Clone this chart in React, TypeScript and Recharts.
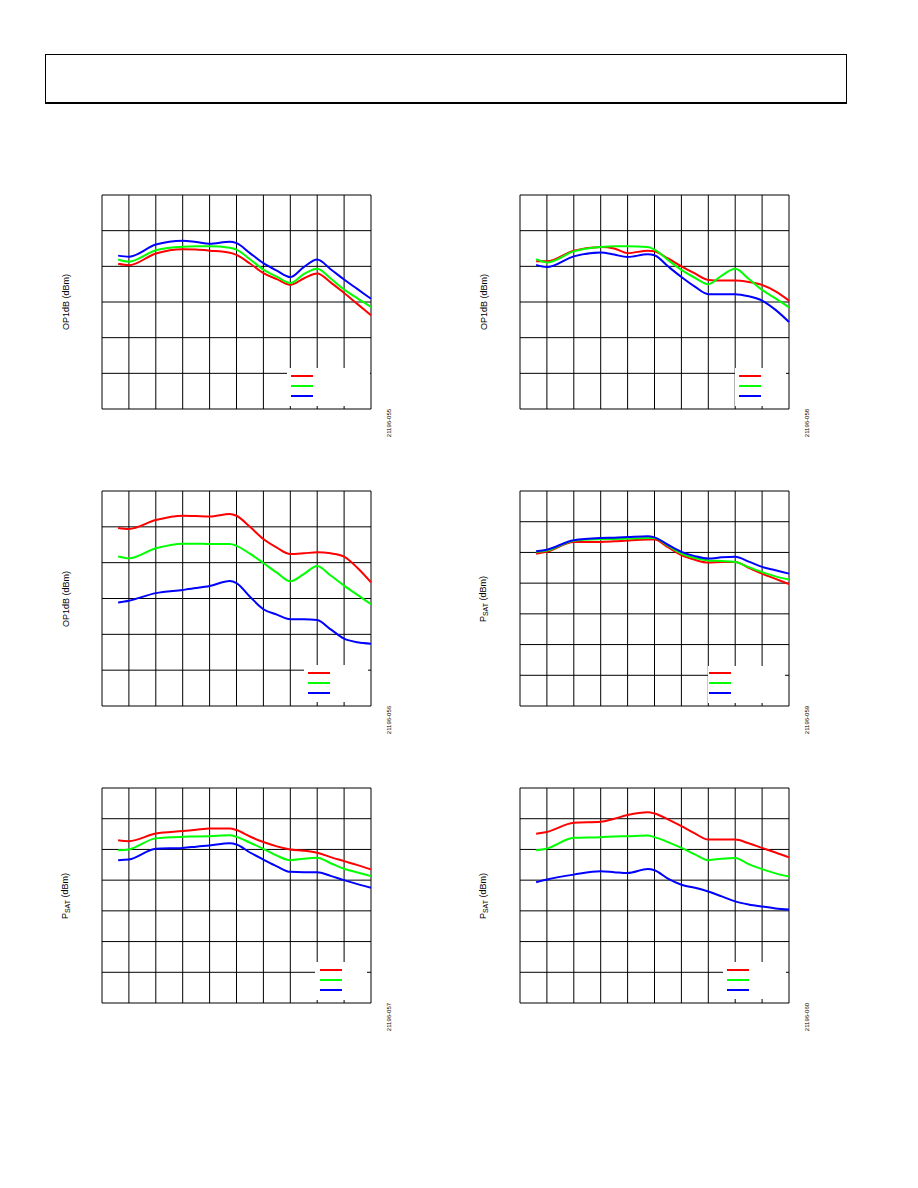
import React from "react";
import { LineChart, Line, XAxis, YAxis, CartesianGrid, Legend } from "recharts";

// x positions in grid divisions (axis labels are not printed on the reference)
const freq = [0.6, 1, 2, 3, 3.5, 4, 4.75, 5, 5.5, 6, 6.5, 7, 7.5, 8, 8.5, 9, 9.5, 10];
const xTicks = [0, 1, 2, 3, 4, 5, 6, 7, 8, 9, 10];

// Fig 055 — OP1dB
const op1dbA_red = [4.07, 4.03, 4.36, 4.48, 4.47, 4.44, 4.38, 4.32, 4.08, 3.81, 3.64, 3.48, 3.66, 3.8, 3.55, 3.25, 2.94, 2.63];
const op1dbA_green = [4.19, 4.13, 4.45, 4.55, 4.56, 4.56, 4.52, 4.47, 4.2, 3.91, 3.71, 3.53, 3.78, 3.93, 3.66, 3.35, 3.1, 2.86];
const op1dbA_blue = [4.3, 4.27, 4.61, 4.72, 4.68, 4.63, 4.69, 4.65, 4.37, 4.09, 3.88, 3.7, 3.98, 4.19, 3.92, 3.63, 3.36, 3.09];

// Fig 058 — OP1dB
const op1dbB_red = [4.14, 4.14, 4.44, 4.54, 4.5, 4.37, 4.44, 4.42, 4.22, 4.0, 3.8, 3.62, 3.6, 3.6, 3.56, 3.48, 3.3, 3.04];
const op1dbB_green = [4.2, 4.11, 4.42, 4.54, 4.56, 4.56, 4.54, 4.47, 4.18, 3.9, 3.68, 3.5, 3.74, 3.93, 3.65, 3.34, 3.1, 2.85];
const op1dbB_blue = [4.04, 3.98, 4.28, 4.39, 4.33, 4.26, 4.34, 4.31, 4.0, 3.7, 3.43, 3.22, 3.22, 3.22, 3.16, 3.04, 2.78, 2.44];

// Fig 056 — OP1dB
const op1dbC_red = [4.97, 4.94, 5.19, 5.31, 5.3, 5.29, 5.36, 5.31, 5.0, 4.66, 4.42, 4.24, 4.26, 4.29, 4.26, 4.17, 3.85, 3.45];
const op1dbC_green = [4.17, 4.12, 4.4, 4.53, 4.53, 4.52, 4.52, 4.47, 4.25, 3.99, 3.72, 3.48, 3.68, 3.91, 3.64, 3.36, 3.1, 2.84];
const op1dbC_blue = [2.89, 2.94, 3.15, 3.24, 3.29, 3.35, 3.49, 3.43, 3.05, 2.7, 2.55, 2.42, 2.42, 2.4, 2.14, 1.88, 1.78, 1.74];

// Fig 059 — PSAT
const psatA_red = [4.96, 5.02, 5.34, 5.34, 5.36, 5.39, 5.42, 5.42, 5.17, 4.91, 4.76, 4.67, 4.69, 4.69, 4.5, 4.31, 4.14, 3.97];
const psatA_green = [5.02, 5.06, 5.38, 5.43, 5.44, 5.45, 5.47, 5.47, 5.22, 4.96, 4.82, 4.74, 4.72, 4.69, 4.52, 4.36, 4.22, 4.12];
const psatA_blue = [5.04, 5.09, 5.4, 5.47, 5.48, 5.5, 5.53, 5.49, 5.25, 5.02, 4.88, 4.8, 4.84, 4.86, 4.7, 4.53, 4.42, 4.31];

// Fig 057 — PSAT
const psatB_red = [5.3, 5.27, 5.52, 5.6, 5.64, 5.68, 5.68, 5.63, 5.42, 5.24, 5.1, 5.0, 4.96, 4.89, 4.75, 4.62, 4.49, 4.35];
const psatB_green = [4.97, 5.0, 5.36, 5.41, 5.42, 5.43, 5.46, 5.41, 5.22, 5.02, 4.8, 4.65, 4.7, 4.73, 4.55, 4.37, 4.25, 4.13];
const psatB_blue = [4.65, 4.67, 5.02, 5.05, 5.09, 5.13, 5.2, 5.16, 4.9, 4.67, 4.45, 4.27, 4.26, 4.26, 4.14, 4.0, 3.87, 3.75];

// Fig 060 — PSAT
const psatC_red = [5.51, 5.57, 5.87, 5.9, 6.0, 6.12, 6.21, 6.17, 5.98, 5.76, 5.52, 5.32, 5.32, 5.32, 5.2, 5.05, 4.9, 4.74];
const psatC_green = [4.97, 5.03, 5.38, 5.4, 5.42, 5.43, 5.45, 5.4, 5.24, 5.05, 4.84, 4.65, 4.7, 4.72, 4.52, 4.36, 4.22, 4.12];
const psatC_blue = [3.93, 4.02, 4.18, 4.29, 4.26, 4.23, 4.36, 4.32, 4.05, 3.85, 3.75, 3.63, 3.47, 3.31, 3.21, 3.14, 3.08, 3.04];

const RED = "#ff0000";
const GREEN = "#00ff00";
const BLUE = "#0000ff";
const FONT = "'Liberation Sans', Arial, sans-serif";

const PW = 269; // plot width
const M = 10; // chart margin round the plot

type Box = { x: number; y: number; w: number; h: number; lx: number; ly: number };

interface PanelProps {
  left: number;
  top: number;
  ph: number;
  rows: number;
  red: number[];
  green: number[];
  blue: number[];
  label: "op1db" | "psat";
  code: string;
  legend: Box;
}

function LegendLines({ box }: { box: Box }) {
  return (
    <svg width={box.w} height={box.h} style={{ display: "block" }}>
      {[RED, GREEN, BLUE].map((c, i) => (
        <line key={c} x1={box.lx} x2={box.lx + 22} y1={box.ly + i * 10} y2={box.ly + i * 10} stroke={c} strokeWidth={2} />
      ))}
    </svg>
  );
}

function Rotated({ x, y, size, children }: { x: number; y: number; size: number; children: React.ReactNode }) {
  return (
    <div
      style={{
        position: "absolute",
        left: x,
        top: y,
        transform: "translate(-50%, -50%) rotate(-90deg)",
        whiteSpace: "nowrap",
        fontFamily: FONT,
        fontSize: size,
        color: "#000",
        lineHeight: 1,
      }}
    >
      {children}
    </div>
  );
}

function Panel({ left, top, ph, rows, red, green, blue, label, code, legend }: PanelProps) {
  const data = freq.map((f, i) => ({ f, red: red[i], green: green[i], blue: blue[i] }));
  const yTicks = Array.from({ length: rows + 1 }, (_, i) => i);

  return (
    <>
      <div style={{ position: "absolute", left: left - M, top: top - M }}>
        <LineChart width={PW + 2 * M} height={ph + 2 * M} data={data} margin={{ top: M, right: M, bottom: M, left: M }}>
          <CartesianGrid stroke="#000" strokeWidth={1} />
          <XAxis dataKey="f" type="number" domain={[0, 10]} ticks={xTicks} hide />
          <YAxis type="number" domain={[0, rows]} ticks={yTicks} hide />
          <Legend
            layout="vertical"
            align="center"
            verticalAlign="middle"
            wrapperStyle={{ left: legend.x + M, top: legend.y + M, width: legend.w, height: legend.h, background: "#fff" }}
            content={() => <LegendLines box={legend} />}
          />
          <Line type="monotone" dataKey="red" stroke={RED} strokeWidth={2} dot={false} isAnimationActive={false} />
          <Line type="monotone" dataKey="green" stroke={GREEN} strokeWidth={2} dot={false} isAnimationActive={false} />
          <Line type="monotone" dataKey="blue" stroke={BLUE} strokeWidth={2} dot={false} isAnimationActive={false} />
        </LineChart>
      </div>
      <Rotated x={left - 36} y={top + ph / 2} size={9}>
        {label === "op1db" ? (
          "OP1dB (dBm)"
        ) : (
          <>
            P<sub style={{ fontSize: 7 }}>SAT</sub> (dBm)
          </>
        )}
      </Rotated>
      <Rotated x={left + PW + 18} y={top + ph + 14} size={6}>
        {code}
      </Rotated>
    </>
  );
}

export default function App() {
  return (
    <div style={{ position: "absolute", left: 0, top: 0, width: 918, height: 1188, background: "#fff", overflow: "hidden" }}>
      {/* page header frame */}
      <div
        style={{
          position: "absolute",
          left: 45,
          top: 54,
          width: 800,
          height: 47,
          borderLeft: "1px solid #000",
          borderRight: "1px solid #000",
          borderTop: "1px solid #000",
          borderBottom: "2px solid #000",
        }}
      />

      <Panel left={102} top={195} ph={214} rows={6} red={op1dbA_red} green={op1dbA_green} blue={op1dbA_blue}
        label="op1db" code="21196-055" legend={{ x: 185, y: 173, w: 83, h: 38, lx: 4, ly: 8 }} />
      <Panel left={520} top={195} ph={214} rows={6} red={op1dbB_red} green={op1dbB_green} blue={op1dbB_blue}
        label="op1db" code="21196-058" legend={{ x: 215, y: 173, w: 51, h: 38, lx: 4, ly: 8 }} />
      <Panel left={102} top={491} ph={215} rows={6} red={op1dbC_red} green={op1dbC_green} blue={op1dbC_blue}
        label="op1db" code="21196-056" legend={{ x: 202, y: 174, w: 64, h: 37, lx: 4, ly: 8 }} />
      <Panel left={520} top={491} ph={215} rows={7} red={psatA_red} green={psatA_green} blue={psatA_blue}
        label="psat" code="21196-059" legend={{ x: 188, y: 175, w: 77, h: 37, lx: 1, ly: 7 }} />
      <Panel left={102} top={788} ph={215} rows={7} red={psatB_red} green={psatB_green} blue={psatB_blue}
        label="psat" code="21196-057" legend={{ x: 213, y: 174, w: 52, h: 38, lx: 5, ly: 8 }} />
      <Panel left={520} top={788} ph={215} rows={7} red={psatC_red} green={psatC_green} blue={psatC_blue}
        label="psat" code="21196-060" legend={{ x: 203, y: 174, w: 63, h: 37, lx: 4, ly: 8 }} />
    </div>
  );
}
